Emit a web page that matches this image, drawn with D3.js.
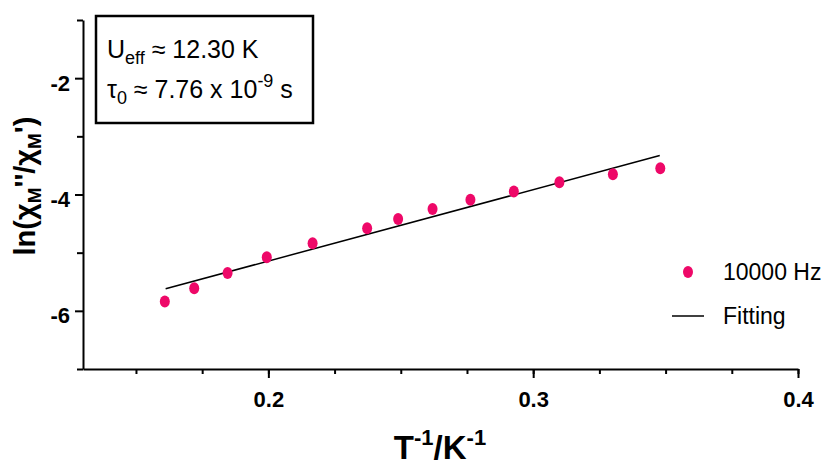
<!DOCTYPE html>
<meta charset="utf-8">
<style>
body { margin: 0; background: #fff; }
svg { font-family: "Liberation Sans", Arial, Helvetica, sans-serif; }
.axis path, .axis line { stroke: #000; stroke-width: 2px; }
.axis text { font-weight: bold; font-size: 22px; fill: #000; }
</style>
<body>
<script src="https://d3js.org/d3.v7.min.js"></script>
<script>
// data
const invT = [0.1609, 0.1720, 0.1846, 0.1994, 0.2167, 0.2373, 0.2490, 0.2620, 0.2763, 0.2927, 0.3099, 0.3301, 0.3480];
const lnChi = [-5.84, -5.61, -5.35, -5.08, -4.84, -4.58, -4.42, -4.25, -4.09, -3.95, -3.79, -3.65, -3.55];
const fitX = [0.1612, 0.3478];
const fitY = [-5.62, -3.33];
const xTicks = [0.2, 0.3, 0.4];
const yTicks = [-2, -4, -6];

const W = 832, H = 466;
const svg = d3.select("body").append("svg").attr("width", W).attr("height", H);

const x = d3.scaleLinear().domain([0.13, 0.4]).range([83, 798]);
const y = d3.scaleLinear().domain([-7, -1]).range([369, 20]);

// x axis: minor ticks, then major with labels
svg.append("g").attr("class", "axis")
    .attr("transform", "translate(0,369)")
    .call(d3.axisBottom(x).tickValues(d3.range(0.15, 0.401, 0.025)).tickSize(5).tickFormat("").tickSizeOuter(0));
svg.append("g").attr("class", "axis")
    .attr("transform", "translate(0,369)")
    .call(d3.axisBottom(x).tickValues(xTicks).tickSize(9).tickPadding(13).tickSizeOuter(0).tickFormat(d3.format(".1f")))
    .select(".domain").remove();

// y axis
svg.append("g").attr("class", "axis")
    .attr("transform", "translate(83,0)")
    .call(d3.axisLeft(y).tickValues([-1, -3, -5, -7]).tickSize(6).tickFormat("").tickSizeOuter(0));
svg.append("g").attr("class", "axis")
    .attr("transform", "translate(83,0)")
    .call(d3.axisLeft(y).tickValues(yTicks).tickSize(8).tickPadding(5).tickSizeOuter(0).tickFormat(d => String(d)))
    .call(g => g.selectAll("text").attr("dy", "0.55em"))
    .select(".domain").remove();

// fit line
svg.append("line")
    .attr("x1", x(fitX[0])).attr("y1", y(fitY[0]))
    .attr("x2", x(fitX[1])).attr("y2", y(fitY[1]))
    .attr("stroke", "#000").attr("stroke-width", 1.5);

// points
svg.selectAll("ellipse.pt")
    .data(invT)
    .enter()
    .append("ellipse")
        .attr("class", "pt")
        .attr("cx", d => x(d))
        .attr("cy", (d, i) => y(lnChi[i]))
        .attr("rx", 5).attr("ry", 6)
        .attr("fill", "#ee0868");

// annotation box
svg.append("rect")
    .attr("x", 96).attr("y", 16).attr("width", 217).attr("height", 107)
    .attr("fill", "none").attr("stroke", "#000").attr("stroke-width", 2.5);
const t1 = svg.append("text").attr("x", 107).attr("y", 58).attr("font-size", 25);
t1.append("tspan").text("U");
t1.append("tspan").attr("font-size", 18).attr("dy", 6).text("eff");
t1.append("tspan").attr("dy", -6).text(" \u2248 12.30 K");
const t2 = svg.append("text").attr("x", 107).attr("y", 98).attr("font-size", 25);
t2.append("tspan").text("\u03c4");
t2.append("tspan").attr("font-size", 18).attr("dy", 6).text("0");
t2.append("tspan").attr("dy", -6).text(" \u2248 7.76 x 10");
t2.append("tspan").attr("font-size", 18).attr("dy", -11).text("-9");
t2.append("tspan").attr("dy", 11).text(" s");

// legend
svg.append("ellipse").attr("cx", 688).attr("cy", 272).attr("rx", 5).attr("ry", 6).attr("fill", "#ee0868");
svg.append("text").attr("x", 723).attr("y", 280).attr("font-size", 23).text("10000 Hz");
svg.append("line").attr("x1", 672).attr("x2", 704).attr("y1", 316).attr("y2", 316).attr("stroke", "#000").attr("stroke-width", 1.5);
svg.append("text").attr("x", 723).attr("y", 324).attr("font-size", 23).text("Fitting");

// axis titles
const xl = svg.append("text").attr("x", 440).attr("y", 459).attr("text-anchor", "middle")
    .attr("font-size", 33).attr("font-weight", "bold");
xl.append("tspan").text("T");
xl.append("tspan").attr("font-size", 22).attr("dy", -14).text("-1");
xl.append("tspan").attr("dy", 14).text("/K");
xl.append("tspan").attr("font-size", 22).attr("dy", -14).text("-1");

const yl = svg.append("text").attr("transform", "translate(35,186) rotate(-90)")
    .attr("text-anchor", "middle").attr("font-size", 29).attr("font-weight", "bold");
yl.append("tspan").text("ln(\u03c7");
yl.append("tspan").attr("font-size", 19).attr("dy", 6).text("M");
yl.append("tspan").attr("dy", -6).text("''/\u03c7");
yl.append("tspan").attr("font-size", 19).attr("dy", 6).text("M");
yl.append("tspan").attr("dy", -6).text("')");
</script>
</body>
